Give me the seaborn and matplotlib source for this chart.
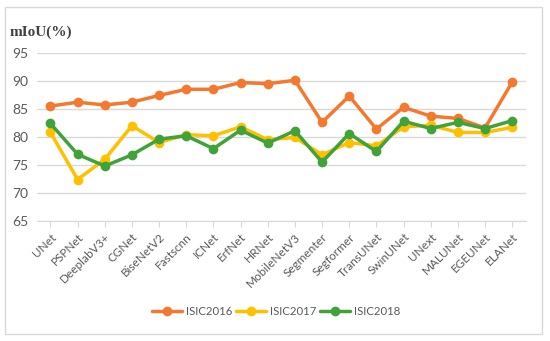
import pandas as pd
import matplotlib
matplotlib.use("Agg")
import matplotlib.pyplot as plt
import seaborn as sns
from matplotlib.patches import Rectangle

models = ["UNet", "PSPNet", "DeeplabV3+", "CGNet", "BiseNetV2", "Fastscnn", "ICNet", "ErfNet",
          "HRNet", "MobileNetV3", "Segmenter", "Segformer", "TransUNet", "SwinUNet", "UNext",
          "MALUNet", "EGEUNet", "ELANet"]
isic2016 = [85.5, 86.2, 85.7, 86.2, 87.4, 88.5, 88.5, 89.7, 89.5, 90.1, 82.6, 87.3,
            81.4, 85.3, 83.7, 83.3, 81.6, 89.8]
isic2017 = [80.8, 72.4, 76.0, 82.0, 79.0, 80.4, 80.2, 81.8, 79.5, 79.9, 76.8, 79.0,
            78.4, 81.8, 82.1, 80.8, 80.8, 81.7]
isic2018 = [82.4, 76.9, 74.8, 76.8, 79.6, 80.2, 77.9, 81.2, 78.9, 81.1, 75.5, 80.6,
            77.4, 82.8, 81.5, 82.6, 81.5, 82.9]
series = ["ISIC2016", "ISIC2017", "ISIC2018"]
colors = ["#F4792F", "#FFC000", "#3FA33A"]

df = pd.DataFrame({"model": models, "ISIC2016": isic2016, "ISIC2017": isic2017, "ISIC2018": isic2018})
df_long = df.melt(id_vars="model", var_name="dataset", value_name="miou")

sns.set_style("white")
plt.rcParams["font.family"] = ["Lato", "DejaVu Sans"]

fig = plt.figure(figsize=(5.5, 3.41), dpi=100)
ax = fig.add_axes([0.067, 0.352, 0.889, 0.493])

sns.lineplot(
    data=df_long, x="model", y="miou", hue="dataset", hue_order=series,
    palette=colors, marker="o", markersize=7, markeredgewidth=0,
    linewidth=2.5, sort=False, ax=ax
)

ax.set_ylim(65, 95)
ax.set_xlim(-0.5, len(models) - 0.5)
ax.set_yticks([65, 70, 75, 80, 85, 90, 95])
ax.yaxis.grid(True, color="#d9d9d9", linewidth=1)
ax.set_axisbelow(True)
for s in ["top", "right", "left"]:
    ax.spines[s].set_visible(False)
ax.spines["bottom"].set_color("#d9d9d9")
ax.set_xlabel("")
ax.set_ylabel("")
ax.tick_params(axis="y", length=0, labelsize=10, labelcolor="#595959", pad=6)
ax.tick_params(axis="x", length=4, color="#d9d9d9", bottom=True, labelsize=8.5, labelcolor="#595959")
plt.setp(ax.get_xticklabels(), rotation=45, ha="right", rotation_mode="anchor")

fig.text(0.018, 0.895, "mIoU(%)", fontsize=11, fontweight="bold", family="Liberation Serif", color="#404040")

ax.legend(loc="center", bbox_to_anchor=(0.49, -0.536), ncol=3, frameon=False,
          fontsize=8.2, handlelength=2.6, columnspacing=0.3, handletextpad=0.4,
          labelcolor="#595959")

fig.patches.append(Rectangle((0.009, 0.02), 0.977, 0.96, transform=fig.transFigure,
                             fill=False, edgecolor="#d9d9d9", linewidth=1))

fig.savefig("out.png", dpi=100)
